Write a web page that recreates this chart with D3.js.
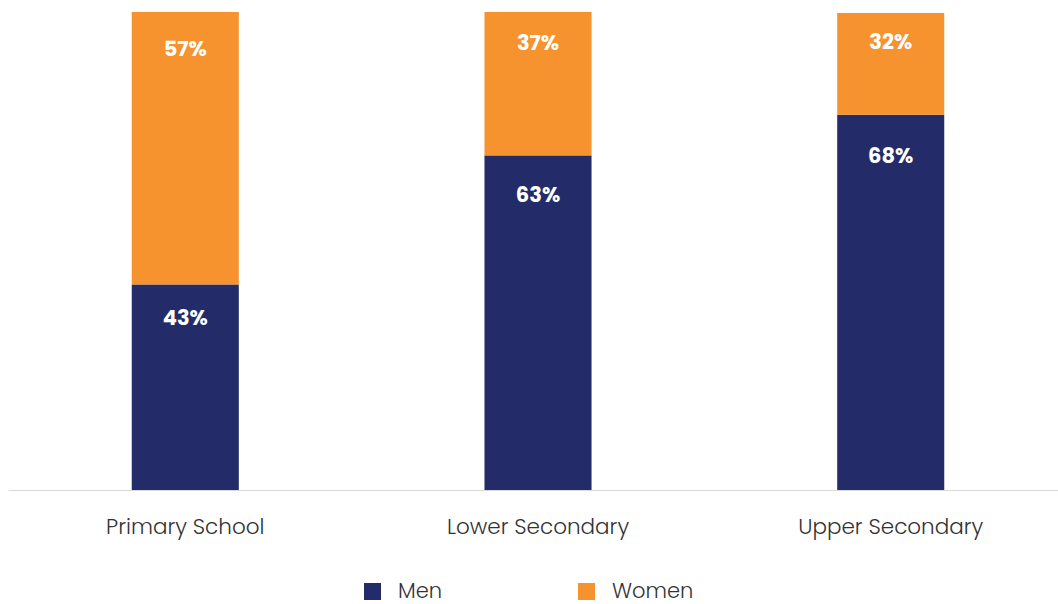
<!DOCTYPE html>
<html>
<head>
<meta charset="utf-8">
<script src="https://cdn.jsdelivr.net/npm/d3@7"></script>
<style>
  body { margin: 0; background: #fff; }
  svg text { font-family: Poppins, Inter, "Open Sans", sans-serif; }
</style>
</head>
<body>
<svg id="chart" width="1058" height="604"></svg>
<script>
const categories = ['Primary School', 'Lower Secondary', 'Upper Secondary'];
// stacked bar heights as drawn (share of the full bar)
const menValues = [43, 70, 78.5];
const womenValues = [57, 30, 21.3];
// percentages printed on the bars
const menLabels = ['43%', '63%', '68%'];
const womenLabels = ['57%', '37%', '32%'];
const seriesNames = ['Men', 'Women'];

const colors = { Men: '#232c69', Women: '#f6932f' };

const width = 1058, height = 604;
const svg = d3.select('#chart');

const x = d3.scaleBand()
  .domain(categories)
  .range([9, 1067])
  .paddingInner(0.6965)
  .paddingOuter(0.348);

const y = d3.scaleLinear()
  .domain([0, 100])
  .range([490, 12]);

const rows = categories.map((c, i) => ({
  category: c,
  Men: menValues[i],
  Women: womenValues[i],
  MenLabel: menLabels[i],
  WomenLabel: womenLabels[i]
}));

const stack = d3.stack().keys(seriesNames)(rows);

const layers = svg.selectAll('.layer')
  .data(stack)
  .enter().append('g')
  .attr('class', 'layer')
  .attr('fill', d => colors[d.key]);

layers.selectAll('rect')
  .data(d => d)
  .enter().append('rect')
  .attr('x', d => x(d.data.category))
  .attr('width', x.bandwidth())
  .attr('y', d => y(d[1]))
  .attr('height', d => y(d[0]) - y(d[1]));

// value labels near the top of each segment
stack.forEach(layer => {
  svg.append('g').selectAll('text')
    .data(layer)
    .enter().append('text')
    .attr('x', d => x(d.data.category) + x.bandwidth() / 2)
    .attr('y', d => {
      const h = y(d[0]) - y(d[1]);
      return y(d[1]) + 24 + 0.045 * h;
    })
    .attr('dy', '0.35em')
    .attr('text-anchor', 'middle')
    .style('font-size', '21px')
    .style('font-weight', '700')
    .style('fill', '#fff')
    .text(d => d.data[layer.key + 'Label']);
});

// baseline
svg.append('line')
  .attr('x1', 9).attr('x2', width)
  .attr('y1', 490.5).attr('y2', 490.5)
  .attr('stroke', '#d9d9d9')
  .attr('stroke-width', 1);

// category labels
svg.append('g').selectAll('text')
  .data(categories)
  .enter().append('text')
  .attr('x', d => x(d) + x.bandwidth() / 2)
  .attr('y', 534)
  .attr('text-anchor', 'middle')
  .style('font-size', '21.5px')
  .style('font-weight', '300')
  .style('fill', '#333')
  .text(d => d);

// legend
const legendX = [364, 578];
const legend = svg.append('g').selectAll('g')
  .data(seriesNames)
  .enter().append('g')
  .attr('transform', (d, i) => `translate(${legendX[i]},583)`);

legend.append('rect')
  .attr('width', 17).attr('height', 17)
  .attr('fill', d => colors[d]);

legend.append('text')
  .attr('x', 34)
  .attr('y', 15)
  .style('font-size', '21px')
  .style('font-weight', '300')
  .style('fill', '#333')
  .text(d => d);
</script>
</body>
</html>
